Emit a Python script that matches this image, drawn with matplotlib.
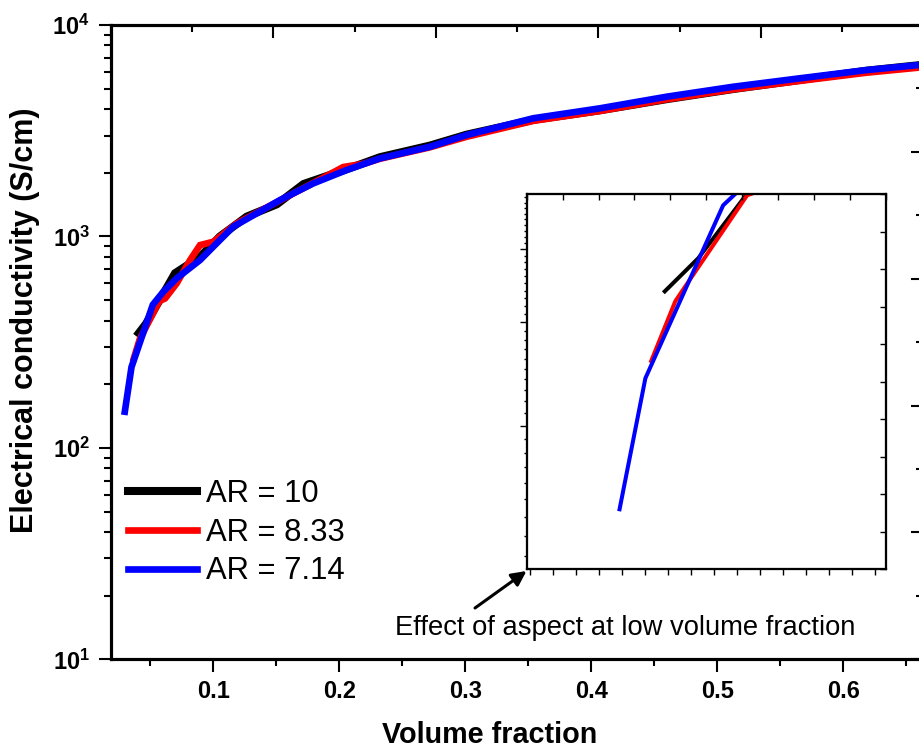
import numpy as np
import matplotlib
matplotlib.use("Agg")
import matplotlib.pyplot as plt
from matplotlib.ticker import FixedLocator, MultipleLocator, NullFormatter
from matplotlib.lines import Line2D

plt.rcParams['font.family'] = ['Liberation Sans', 'DejaVu Sans']
plt.rcParams['mathtext.fontset'] = 'custom'
plt.rcParams['mathtext.rm'] = 'Liberation Sans'
plt.rcParams['mathtext.bf'] = 'Liberation Sans:bold'

# volume fraction / conductivity (S/cm)
vf_10 = [0.0390, 0.0466, 0.0697, 0.0895, 0.1053, 0.1265, 0.1505, 0.1717, 0.2060,
         0.2323, 0.2720, 0.3011, 0.3540, 0.4069, 0.4599, 0.5127, 0.5657, 0.6186, 0.6650]
sc_10 = [337, 386, 670, 800, 1000, 1240, 1420, 1770, 2080,
         2370, 2690, 3030, 3560, 3950, 4460, 4980, 5500, 6080, 6500]

vf_833 = [0.0362, 0.0416, 0.0452, 0.0572, 0.0618, 0.0710, 0.0816, 0.0895, 0.1001,
          0.1187, 0.1530, 0.1876, 0.2032, 0.2200, 0.2323, 0.2720, 0.3011, 0.3540,
          0.4069, 0.4599, 0.5127, 0.5657, 0.6186, 0.6650]
sc_833 = [256, 326, 359, 494, 509, 600, 773, 910, 944,
          1153, 1480, 1900, 2130, 2210, 2330, 2640, 2960, 3520,
          3920, 4450, 4960, 5440, 5950, 6330]

vf_714 = [0.0294, 0.0351, 0.0520, 0.0603, 0.0710, 0.0895, 0.1053, 0.1159, 0.1530,
          0.1794, 0.2059, 0.2323, 0.2720, 0.3011, 0.3540, 0.4069, 0.4599, 0.5127,
          0.5657, 0.6186, 0.6650]
sc_714 = [143, 241, 475, 547, 634, 773, 962, 1112, 1486,
          1782, 2061, 2340, 2655, 3017, 3622, 4036, 4581, 5105,
          5598, 6124, 6510]

series = [(vf_10, sc_10, 'black', 5.8, 'AR = 10'),
          (vf_833, sc_833, 'red', 4.8, 'AR = 8.33'),
          (vf_714, sc_714, 'blue', 4.8, 'AR = 7.14')]

W, H = 919, 749
fig = plt.figure(figsize=(W / 100, H / 100), dpi=100)

# main axes (right spine sits just outside the picture)
ax = fig.add_axes([110.7 / W, (H - 659.3) / H, (923.5 - 110.7) / W, (659.3 - 25) / H])
for x, y, c, lw, lab in series:
    ax.plot(x, y, color=c, lw=lw, label=lab, solid_capstyle='butt', solid_joinstyle='miter')

ax.set_yscale('log')
ax.set_ylim(10, 1e4)
ax.set_xlim(0.0186, 0.6637)
ax.xaxis.set_major_locator(FixedLocator([0.1, 0.2, 0.3, 0.4, 0.5, 0.6]))
ax.xaxis.set_minor_locator(FixedLocator([0.05, 0.15, 0.25, 0.35, 0.45, 0.55, 0.65]))
ax.set_xticklabels(['0.1', '0.2', '0.3', '0.4', '0.5', '0.6'])
ax.yaxis.set_major_locator(FixedLocator([10, 100, 1000, 10000]))
ax.set_yticklabels([r'$\mathbf{10^{1}}$', r'$\mathbf{10^{2}}$', r'$\mathbf{10^{3}}$', r'$\mathbf{10^{4}}$'])
ax.yaxis.set_minor_formatter(NullFormatter())
ax.tick_params(which='both', direction='out', width=1.5, top=False, right=False)
ax.tick_params(which='major', length=9, labelsize=17, pad=6)
ax.tick_params(which='minor', length=5)
for lbl in ax.get_xticklabels():
    lbl.set_fontweight('bold')
for sp in ax.spines.values():
    sp.set_linewidth(2.2)

ax.set_xlabel('Volume fraction', fontsize=20.7, fontweight='bold')
ax.xaxis.set_label_coords((490 - 110.7) / 812.8, -0.098)
ax.set_ylabel('Electrical conductivity (S/cm)', fontsize=22, fontweight='bold')
ax.yaxis.set_label_coords(-0.087, 0.534)

# independent ticks on top and right
axt = ax.twiny()
axt.set_xlim(0, 5)
axt.xaxis.set_major_locator(MultipleLocator(1))
axt.xaxis.set_minor_locator(MultipleLocator(0.5))
axt.tick_params(which='both', direction='in', width=1.5, labeltop=False)
axt.tick_params(which='major', length=9)
axt.tick_params(which='minor', length=5)
axr = ax.twinx()
axr.set_ylim(0, 5)
axr.yaxis.set_major_locator(MultipleLocator(1))
axr.yaxis.set_minor_locator(MultipleLocator(0.5))
axr.tick_params(which='both', direction='in', width=1.5, labelright=False)
axr.tick_params(which='major', length=9)
axr.tick_params(which='minor', length=5)
for a in (axt, axr):
    for sp in a.spines.values():
        sp.set_linewidth(2.2)

handles = [Line2D([], [], color=c, lw=lw) for _, _, c, lw, _ in series]
ax.legend(handles, [s[4] for s in series], loc='upper left', frameon=False,
          bbox_to_anchor=(0.0209, 0.2842), borderaxespad=0, borderpad=0,
          fontsize=22.3, handlelength=2.23, handletextpad=0.29, labelspacing=0.28)

# inset: low volume fraction region
axi = fig.add_axes([526.7 / W, (H - 569) / H, (886 - 526.7) / W, (569 - 194.3) / H])
for x, y, c, lw, lab in series:
    axi.plot(x, y, color=c, lw=2.9, solid_capstyle='butt')
axi.set_yscale('log')
axi.set_xlim(0.0093, 0.0874)
axi.set_ylim(114, 496)
axi.yaxis.set_major_locator(FixedLocator([200, 300, 400]))
axi.yaxis.set_minor_locator(FixedLocator([v for v in range(120, 500, 10) if v % 100]))
axi.yaxis.set_major_formatter(NullFormatter())
axi.yaxis.set_minor_formatter(NullFormatter())
axi.xaxis.set_major_locator(MultipleLocator(0.01))
axi.xaxis.set_minor_locator(MultipleLocator(0.005))
axi.xaxis.set_major_formatter(NullFormatter())
axi.tick_params(which='both', direction='out', width=1.0, top=False, right=False)
axi.tick_params(which='major', length=5)
axi.tick_params(which='minor', length=2.5)
axi.tick_params(axis='x', which='both', length=4.5)
for sp in axi.spines.values():
    sp.set_linewidth(1.5)
ait = axi.twiny()
ait.set_xlim(0, 10)
ait.xaxis.set_major_locator(MultipleLocator(1))
ait.tick_params(direction='in', length=4.5, width=1.0, labeltop=False)
air = axi.twinx()
air.set_ylim(0, 10)
air.yaxis.set_major_locator(MultipleLocator(1))
air.tick_params(direction='in', length=4.5, width=1.0, labelright=False)
for a in (ait, air):
    for sp in a.spines.values():
        sp.set_linewidth(1.5)

# annotation arrow pointing to the inset
fig.add_artist(matplotlib.patches.FancyArrowPatch(
    (475 / W, (H - 608) / H), (526.5 / W, (H - 571) / H), transform=fig.transFigure,
    arrowstyle='-|>', mutation_scale=22, lw=2.2, color='black', shrinkA=0, shrinkB=0))
fig.text(395 / W, (H - 635) / H, 'Effect of aspect at low volume fraction',
         fontsize=19.7, ha='left', va='baseline')

fig.savefig('out.png', dpi=100)
